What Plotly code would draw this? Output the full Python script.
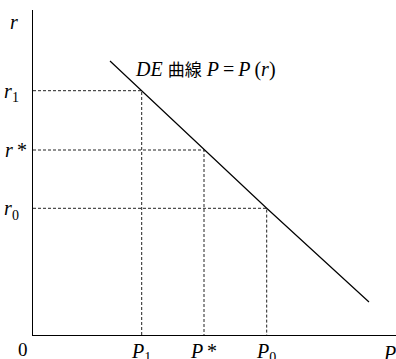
import plotly.graph_objects as go

# values in chart units (origin at the axes corner)
P_ticks = [108.7, 171.0, 233.7]
P_labels = ["<i>P</i><sub>1</sub>", "<i>P</i>\u2009*", "<i>P</i><sub>0</sub>"]
r_ticks = [244.3, 185.0, 126.7]
r_labels = ["<i>r</i><sub>1</sub>\u2009\u2009", "<i>r</i>\u2009*", "<i>r</i><sub>0</sub>\u2009\u2009"]
curve_P = [77.0, 108.7, 171.0, 233.7, 336.0]
curve_r = [274.0, 244.3, 185.0, 126.7, 33.0]

SERIF = "Times New Roman, Liberation Serif, serif"
fig = go.Figure()

# dashed guide lines
for p, r in zip(P_ticks, r_ticks):
    fig.add_trace(go.Scatter(x=[0, p, p], y=[r, r, 0], mode="lines",
                             line=dict(color="#222", width=1, dash="3px,2px"),
                             hoverinfo="skip", showlegend=False))

fig.add_trace(go.Scatter(x=curve_P, y=curve_r, mode="lines",
                         line=dict(color="black", width=1.2),
                         showlegend=False))

fig.add_annotation(x=99.5, y=267, xref="x", yref="y", xanchor="left", yanchor="middle",
                   text="<i>DE</i> <span style=\"font-family:Noto Sans CJK JP;font-size:17px\">曲線</span> <i>P</i>\u2009=\u2009<i>P</i>\u2009(<i>r</i>)",
                   showarrow=False, font=dict(family=SERIF, size=20, color="black"))
fig.add_annotation(x=0, y=0, xref="x", yref="y", xanchor="right", yanchor="top",
                   xshift=-3, yshift=-2, text="0", showarrow=False,
                   font=dict(family=SERIF, size=19, color="black"))
fig.add_annotation(x=0, y=313, xref="x", yref="y", xanchor="right", yanchor="middle",
                   xshift=-13, text="<i>r</i>", showarrow=False,
                   font=dict(family=SERIF, size=20, color="black"))
fig.add_annotation(x=356, y=0, xref="x", yref="y", xanchor="center", yanchor="top",
                   yshift=-5, text="<i>P</i>", showarrow=False,
                   font=dict(family=SERIF, size=20, color="black"))

fig.update_layout(
    width=396, height=359,
    margin=dict(l=33, r=0, t=10, b=24, autoexpand=False),
    plot_bgcolor="white", paper_bgcolor="white",
    xaxis=dict(range=[0, 363], tickvals=P_ticks, ticktext=P_labels, automargin=False,
               showgrid=False, zeroline=False, showline=True, linecolor="black",
               linewidth=1.2, ticks="", ticklabelstandoff=-2,
               tickfont=dict(family=SERIF, size=20, color="black")),
    yaxis=dict(range=[0, 325], tickvals=r_ticks, ticktext=r_labels, automargin=False,
               showgrid=False, zeroline=False, showline=True, linecolor="black",
               linewidth=1.2, ticks="", ticklabelstandoff=1,
               tickfont=dict(family=SERIF, size=20, color="black")),
)
fig.write_html("out.html", config={"displayModeBar": False},
               post_script="document.body.style.margin='0';document.body.style.overflow='hidden';")
